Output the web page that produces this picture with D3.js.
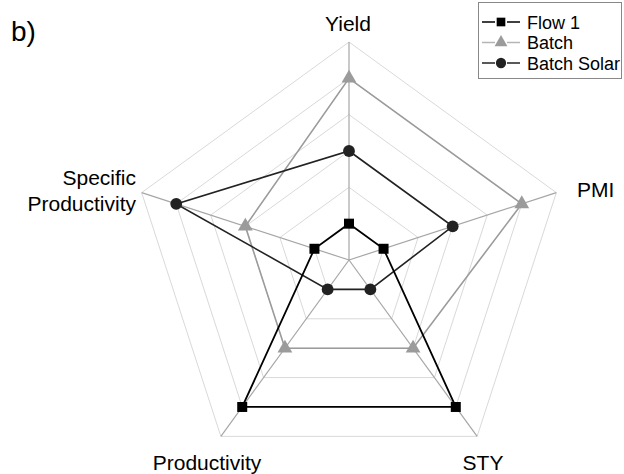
<!DOCTYPE html>
<html>
<head>
<meta charset="utf-8">
<script src="https://cdn.jsdelivr.net/npm/d3@7"></script>
<style>
  html, body { margin: 0; padding: 0; background: #fff; }
  svg { display: block; }
  text { font-family: "Liberation Sans", Arial, sans-serif; fill: #000; }
</style>
</head>
<body>
<svg id="chart" width="624" height="474"></svg>
<script>
// Axes of the radar, clockwise from the top
const axes = ["Yield", "PMI", "STY", "Productivity", "Specific Productivity"];
// Score of each process on each axis (0–6 grid steps)
const flow1 = [1, 1, 5, 5, 1];
const batch = [5, 5, 3, 3, 3];
const batchSolar = [3, 3, 1, 1, 5];
const seriesNames = ["Flow 1", "Batch", "Batch Solar"];
const gridLevels = [1, 2, 3, 4, 5, 6];

const svg = d3.select("#chart");
const cx = 349, cy = 260;
const r = d3.scaleLinear().domain([0, 6]).range([0, 218]);
const angle = d3.scalePoint().domain(d3.range(axes.length + 1)).range([0, 2 * Math.PI]);

function pt(i, v) {
  const a = angle(i);
  return [cx + r(v) * Math.sin(a), cy - r(v) * Math.cos(a)];
}

// grid pentagons
const gridG = svg.append("g");
gridLevels.forEach(l => {
  const pts = axes.map((_, i) => pt(i, l));
  gridG.append("polygon")
    .attr("points", pts.map(p => p.join(",")).join(" "))
    .attr("fill", "none")
    .attr("stroke", "#d9d9d9")
    .attr("stroke-width", 1);
});
// spokes
axes.forEach((_, i) => {
  const [x, y] = pt(i, 6);
  gridG.append("line")
    .attr("x1", cx).attr("y1", cy).attr("x2", x).attr("y2", y)
    .attr("stroke", "#a6a6a6").attr("stroke-width", 1.2);
});

// axis labels
const labG = svg.append("g").style("font-size", "21px");
labG.append("text").attr("x", 348).attr("y", 31).attr("text-anchor", "middle").text(axes[0]);
labG.append("text").attr("x", 577).attr("y", 197).attr("text-anchor", "start").text(axes[1]);
labG.append("text").attr("x", 483).attr("y", 470).attr("text-anchor", "middle").text(axes[2]);
labG.append("text").attr("x", 207).attr("y", 470).attr("text-anchor", "middle").text(axes[3]);
const sp = labG.append("text").attr("text-anchor", "end");
sp.append("tspan").attr("x", 136).attr("y", 185).text("Specific");
sp.append("tspan").attr("x", 136).attr("y", 211).text("Productivity");

// series
const styles = [
  { data: flow1, color: "#000", width: 1.8, shape: d3.symbolSquare, size: 100 },
  { data: batch, color: "#9b9b9b", width: 1.6, shape: d3.symbolTriangle, size: 95 },
  { data: batchSolar, color: "#222", width: 1.6, shape: d3.symbolCircle, size: 110 }
];
const drawOrder = [1, 2, 0];
const line = d3.line().curve(d3.curveLinearClosed);
drawOrder.forEach(k => {
  const s = styles[k];
  const pts = s.data.map((v, i) => pt(i, v));
  svg.append("path")
    .attr("d", line(pts))
    .attr("fill", "none")
    .attr("stroke", s.color)
    .attr("stroke-width", s.width);
});
drawOrder.forEach(k => {
  const s = styles[k];
  s.data.forEach((v, i) => {
    const [x, y] = pt(i, v);
    svg.append("path")
      .attr("d", d3.symbol().type(s.shape).size(s.size)())
      .attr("transform", `translate(${x},${y})`)
      .attr("fill", s.color);
  });
});

// panel tag
svg.append("text").attr("x", 11).attr("y", 41).style("font-size", "28px").text("b)");

// legend
const lg = svg.append("g");
lg.append("rect").attr("x", 478.5).attr("y", 2.5).attr("width", 143).attr("height", 76)
  .attr("fill", "#fff").attr("stroke", "#888").attr("stroke-width", 1);
seriesNames.forEach((name, k) => {
  const s = styles[k];
  const y = 22 + k * 20.5;
  // short line segments either side of the marker
  [[482, 495], [507, 520]].forEach(([a, b]) => {
    lg.append("line").attr("x1", a).attr("x2", b).attr("y1", y).attr("y2", y)
      .attr("stroke", k === 1 ? "#b5b5b5" : s.color).attr("stroke-width", 1.5);
  });
  lg.append("path")
    .attr("d", d3.symbol().type(s.shape).size(s.size * 0.75)())
    .attr("transform", `translate(501,${y})`)
    .attr("fill", s.color);
  lg.append("text").attr("x", 527).attr("y", y + 6.5).style("font-size", "18px").text(name);
});
</script>
</body>
</html>
